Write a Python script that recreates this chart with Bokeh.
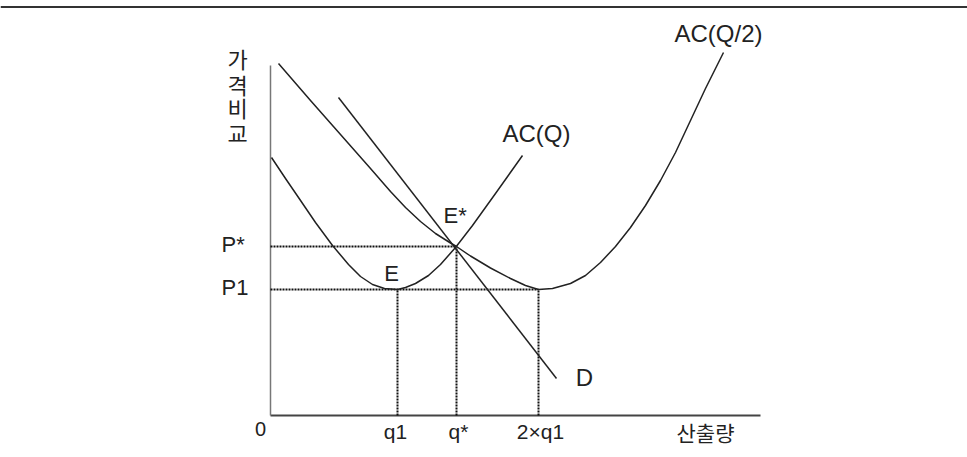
from bokeh.plotting import figure
from bokeh.models import Range1d, Span
from bokeh.core.properties import value
from bokeh.embed import file_html
from bokeh.resources import INLINE

# ---- values (x: output, y: price) ----
q1 = 12.7
q_star = 18.6
q_two = 26.8          # 2×q1
p1 = 12.6
p_star = 16.9

x_axis_end = 49.0
y_axis_top = 35.0

ac_q_x = [0.1, 1.5, 2.8, 4.5, 6.2, 7.8, 9.0, 10.2, 11.4, 12.7, 13.5, 14.5, 15.8, 17.0, 18.5, 20.2, 22.5, 25.2]
ac_q_y = [25.8, 23.7, 21.8, 19.3, 17.0, 15.1, 13.9, 13.1, 12.7, 12.6, 12.8, 13.2, 14.0, 15.1, 16.8, 19.0, 22.2, 26.0]

ac_half_x = [0.8, 4.0, 7.0, 10.0, 12.0, 13.5, 15.0, 16.5, 18.0, 18.6, 20.0, 22.0, 24.0, 25.5, 26.8,
             28.2, 30.0, 31.5, 33.0, 34.5, 36.0, 37.5, 39.0, 40.5, 42.0, 43.5, 44.5, 45.3]
ac_half_y = [35.2, 31.5, 28.1, 24.7, 22.4, 20.8, 19.4, 18.2, 17.25, 16.9, 15.95, 14.75, 13.7, 13.0, 12.6,
             12.7, 13.2, 14.0, 15.3, 16.9, 18.8, 21.0, 23.5, 26.3, 29.5, 32.7, 34.7, 36.3]

d_x = [6.8, 28.6]
d_y = [31.8, 3.7]

tick_labels = ["q1", "q*", "2×q1"]
tick_pos = [12.5, 18.8, 27.0]
price_labels = ["P*", "P1"]
price_pos = [p_star, p1]
y_title_chars = ["가", "격", "비", "교"]
y_title_pos = [35.75, 33.15, 30.85, 28.4]

LATIN = value("Liberation Sans")
KOREAN = value("Noto Sans CJK KR")
INK = "#222222"
DOT = "#111111"

p = figure(width=967, height=457, output_backend="svg", toolbar_location=None,
           x_range=Range1d(-27.0, 69.7), y_range=Range1d(-4.2, 41.5),
           x_axis_type=None, y_axis_type=None, min_border=0,
           outline_line_color=None, background_fill_color="white")
p.xgrid.visible = False
p.ygrid.visible = False

# top rule
p.add_layout(Span(location=40.85, dimension="width", line_color="#333333", line_width=2))

# axes
p.segment(x0=[0], y0=[0], x1=[x_axis_end], y1=[0], line_color="#444444", line_width=2)
p.segment(x0=[0], y0=[0], x1=[0], y1=[y_axis_top], line_color="#777777", line_width=1.5)

# dotted guides
p.segment(x0=[0, 0], y0=[p_star, p1], x1=[q_star, q_two], y1=[p_star, p1],
          line_color=DOT, line_width=2.2, line_dash="2 1")
p.segment(x0=[q1, q_star, q_two], y0=[0, 0, 0], x1=[q1, q_star, q_two], y1=[p1, p_star, p1],
          line_color=DOT, line_width=2, line_dash="2 1")

# curves
p.line(ac_q_x, ac_q_y, line_color=INK, line_width=1.5, line_join="round")
p.line(ac_half_x, ac_half_y, line_color=INK, line_width=1.5, line_join="round")
p.line(d_x, d_y, line_color=INK, line_width=1.5)

# curve labels
p.text(x=[44.8, 26.6, 31.4], y=[38.2, 28.2, 3.8], text=["AC(Q/2)", "AC(Q)", "D"],
       text_font=LATIN, text_font_size="24px", text_align="center", text_baseline="middle",
       text_color=INK)
p.text(x=[17.3], y=[20.0], text=["E*"], text_font=LATIN, text_font_size="22px",
       text_align="left", text_baseline="middle", text_color=INK)
p.text(x=[12.1], y=[14.2], text=["E"], text_font=LATIN, text_font_size="22px",
       text_align="center", text_baseline="middle", text_color=INK)

# price labels
p.text(x=[-4.9] * len(price_labels), y=[v + 0.2 for v in price_pos], text=price_labels,
       text_font=LATIN, text_font_size="22px", text_align="left", text_baseline="middle",
       text_color=INK)

# quantity labels
p.text(x=tick_pos, y=[-1.55] * len(tick_pos), text=tick_labels, text_font=LATIN,
       text_font_size="21px", text_align="center", text_baseline="middle", text_color=INK)
p.text(x=[-1.0], y=[-1.3], text=["0"], text_font=LATIN, text_font_size="20px",
       text_align="center", text_baseline="middle", text_color=INK)

# axis titles
p.text(x=[43.5], y=[-1.6], text=["산출량"], text_font=KOREAN, text_font_size="21px",
       text_align="center", text_baseline="middle", text_color=INK)
p.text(x=[-3.3] * len(y_title_chars), y=y_title_pos, text=y_title_chars, text_font=KOREAN,
       text_font_size="22px", text_align="center", text_baseline="middle", text_color=INK)

open("out.html", "w").write(file_html(p, INLINE))
